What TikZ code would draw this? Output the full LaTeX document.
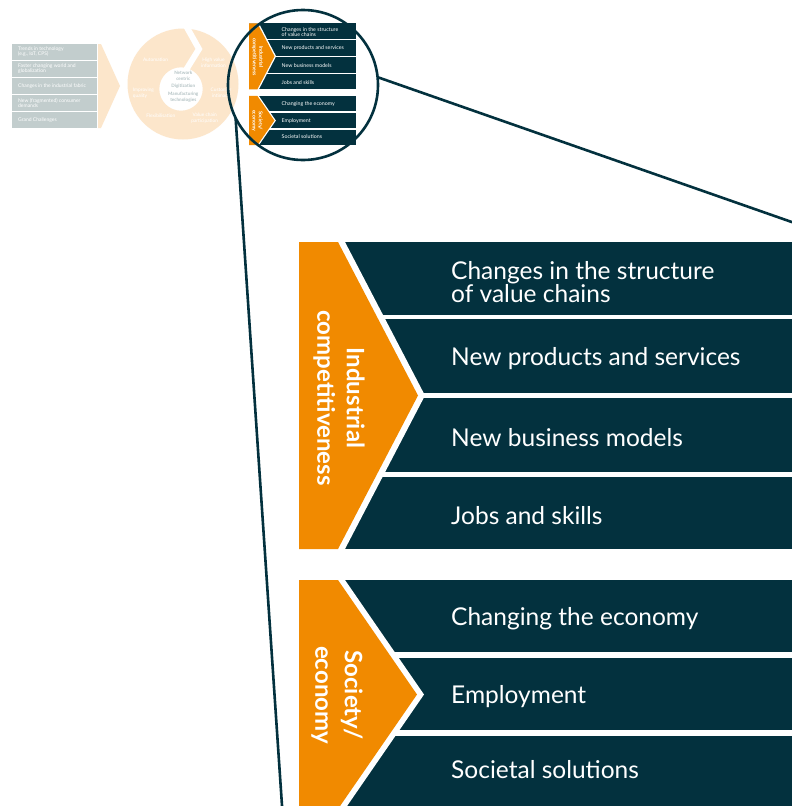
\documentclass[tikz,border=0pt]{standalone}
\usepackage{fontspec}
\setmainfont{Lato}
\definecolor{dk}{HTML}{03313E}
\definecolor{org}{HTML}{F18A00}
\definecolor{peach}{HTML}{FCE6CB}
\definecolor{grayb}{HTML}{C2CDCD}
\definecolor{graytxt}{HTML}{B3C2C4}
\tikzset{
  rowtxt/.style={anchor=west, text=white, align=left, inner sep=0pt, font=\fontsize{24.5}{21.7}\selectfont},
  lbltxt/.style={text=white, align=center, inner sep=0pt, rotate=-90, font=\bfseries\fontsize{24}{29.5}\selectfont},
  boxtxt/.style={anchor=west, text=white, align=left, inner sep=0pt, font=\fontsize{5}{5.4}\selectfont},
  ringtxt/.style={text=white, align=center, inner sep=0pt, font=\fontsize{4.8}{5.4}\selectfont},
  coretxt/.style={text=graytxt, align=center, inner sep=0pt, font=\bfseries\fontsize{4.6}{5.6}\selectfont},
  zoomline/.style={draw=dk, line width=2.6pt},
  lens/.style={circle, draw=dk, line width=2.6pt, minimum size=150pt, inner sep=0pt, outer sep=0pt},
}
\newcommand{\ipanel}[1]{%
  % section 1 rows
  \fill[dk] (0,0) rectangle (496,73);
  \fill[dk] (0,77) rectangle (496,151);
  \fill[dk] (0,156) rectangle (496,230);
  \fill[dk] (0,235) rectangle (496,307);
  \fill[white] (0,0) -- (46,0) -- (126,153.5) -- (46,307) -- (0,307) -- cycle;
  \fill[org] (0,0) -- (39,0) -- (119,153.5) -- (39,307) -- (0,307) -- cycle;
  % section 2 rows
  \fill[dk] (0,338) rectangle (496,410);
  \fill[dk] (0,416) rectangle (496,488);
  \fill[dk] (0,494) rectangle (496,567);
  \fill[white] (0,338) -- (46,338) -- (125,452.5) -- (46,567) -- (0,567) -- cycle;
  \fill[org] (0,338) -- (39,338) -- (118,452.5) -- (39,567) -- (0,567) -- cycle;
  % labels
  \node[lbltxt] (#1l1) at (40,156) {Industrial\\competitiveness};
  \node[lbltxt] (#1l2) at (38,453) {Society/\\economy};
  % row texts
  \node[rowtxt] (#1r1) at (152,40) {Changes in the structure\\of value chains};
  \node[rowtxt] (#1r2) at (152,116.5) {New products and services};
  \node[rowtxt] (#1r3) at (152,196) {New business models};
  \node[rowtxt] (#1r4) at (152,273.5) {Jobs and skills};
  \node[rowtxt] (#1r5) at (152,377) {Changing the economy};
  \node[rowtxt] (#1r6) at (152,454.5) {Employment};
  \node[rowtxt] (#1r7) at (152,528) {Societal solutions};
}
\begin{document}
\begin{tikzpicture}[x=1pt,y=-1pt]
  \clip (0,0) rectangle (792,806);
  \fill[white] (0,0) rectangle (792,806);
  % faded drivers column
  \fill[grayb] (12,44) rectangle (97,59.8);
  \fill[grayb] (12,61) rectangle (97,76.8);
  \fill[grayb] (12,78) rectangle (97,93.8);
  \fill[grayb] (12,95) rectangle (97,110.8);
  \fill[grayb] (12,112) rectangle (97,127.8);
  \node[boxtxt] (d1) at (18,51.9) {Trends in technology\\(e.g., IoT, CPS)};
  \node[boxtxt] (d2) at (18,68.9) {Faster changing world and\\globalization};
  \node[boxtxt] (d3) at (18,85.9) {Changes in the industrial fabric};
  \node[boxtxt] (d4) at (18,102.9) {New (fragmented) consumer\\demands};
  \node[boxtxt] (d5) at (18,119.9) {Grand Challenges};
  \fill[peach] (98,44) -- (101,44) -- (120,86) -- (101,128) -- (98,128) -- cycle;
  % faded ring
  \fill[peach, even odd rule] (183,84) circle[radius=55.5] (181,89) circle[radius=21.7];
  \draw[white, line width=6pt, line join=miter] (185,24) -- (199,49) -- (186,70);
  \node[ringtxt] (c1) at (155.5,60) {Automation};
  \node[ringtxt] (c2) at (213.5,62.7) {High value\\information};
  \node[ringtxt, anchor=west, align=left] (c3) at (132.7,93.3) {Improving\\quality};
  \node[ringtxt] (c4) at (221,93.3) {Customer\\intimacy};
  \node[ringtxt] (c5) at (160.8,115.7) {Flexibilisation};
  \node[ringtxt] (c6) at (204.7,118.3) {Value chain\\participation};
  \node[coretxt] (k1) at (183.3,76) {Network\\centric};
  \node[coretxt] (k2) at (183.3,86.5) {Digitization};
  \node[coretxt] (k3) at (183.3,97) {Manufacturing\\technologies};
  % small panel inside the lens
  \begin{scope}[shift={(249,23.3)}, scale=0.215, transform shape]
    \ipanel{s}
  \end{scope}
  % big panel
  \begin{scope}[shift={(299,242)}]
    \ipanel{b}
  \end{scope}
  % lens and zoom lines
  \node[lens] (lens) at (303,85) {};
  \coordinate (zr) at (796,223.5);
  \coordinate (zl) at (282.3,810);
  \draw[zoomline] (lens.6) -- (zr);
  \draw[zoomline] (lens.206) -- (zl);
\end{tikzpicture}
\end{document}
